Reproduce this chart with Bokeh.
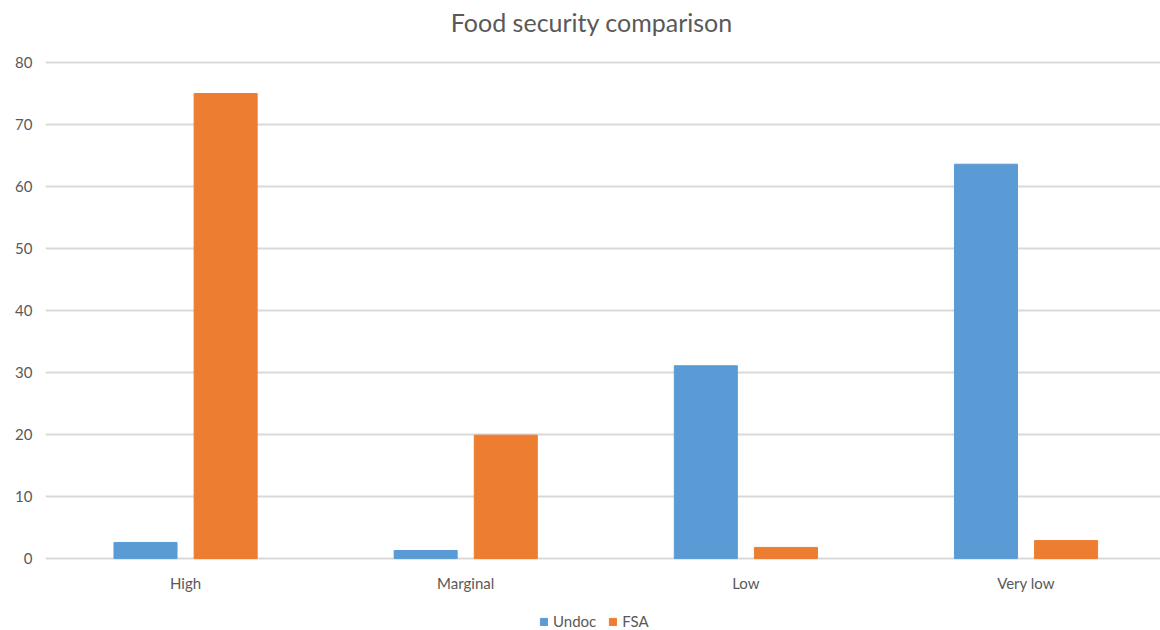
from bokeh.plotting import figure
from bokeh.models import ColumnDataSource, FixedTicker, Legend, LegendItem, Range1d, Label
from bokeh.embed import file_html
from bokeh.resources import INLINE

title_text = "Food security comparison"
categories = ["High", "Marginal", "Low", "Very low"]
undoc = [2.6, 1.3, 31.1, 63.6]
fsa = [75.0, 19.9, 1.8, 2.9]
series_names = ["Undoc", "FSA"]
y_ticks = [0, 10, 20, 30, 40, 50, 60, 70, 80]

BLUE = "#5B9BD5"
ORANGE = "#ED7D31"
TXT = "#595959"
FONT = "Lato"

centers = [i + 0.5 for i in range(len(categories))]
src_u = ColumnDataSource(dict(x=[c - 0.143 for c in centers], top=undoc))
src_f = ColumnDataSource(dict(x=[c + 0.143 for c in centers], top=fsa))

# frame covers the whole page height; 6.2 px per unit, 0 at y=558 px, 80 at y=62 px
p = figure(frame_width=1115, frame_height=630, output_backend="svg", toolbar_location=None,
           x_range=Range1d(0, 3.98), y_range=Range1d(-11.6, 90.0),
           min_border_left=45, min_border_right=0, min_border_top=0, min_border_bottom=0)

r1 = p.vbar(x="x", top="top", width=0.225, bottom=0, source=src_u, color=BLUE)
r2 = p.vbar(x="x", top="top", width=0.225, bottom=0, source=src_f, color=ORANGE)

p.add_layout(Label(x=1.95, y=86.5, text=title_text, text_font=FONT, text_font_size="25px",
                   text_color=TXT, text_align="center", text_baseline="middle"))

p.xaxis.ticker = FixedTicker(ticks=centers)
p.xaxis.major_label_overrides = {c: n for c, n in zip(centers, categories)}
p.xaxis.fixed_location = 0
p.yaxis.ticker = FixedTicker(ticks=y_ticks)
for ax in (p.xaxis[0], p.yaxis[0]):
    ax.axis_line_color = None
    ax.major_tick_line_color = None
    ax.minor_tick_line_color = None
    ax.major_tick_out = 0
    ax.major_tick_in = 0
    ax.minor_tick_out = 0
    ax.major_label_text_font = FONT
    ax.major_label_text_font_size = "15px"
    ax.major_label_text_color = TXT
p.xaxis.major_label_standoff = 15
p.yaxis.major_label_standoff = 13

p.xgrid.grid_line_color = None
p.ygrid.ticker = FixedTicker(ticks=y_ticks)
p.ygrid.grid_line_color = "#D9D9D9"
p.ygrid.grid_line_width = 2
p.outline_line_color = None

legend = Legend(items=[LegendItem(label=series_names[0], renderers=[r1]),
                       LegendItem(label=series_names[1], renderers=[r2])],
                orientation="horizontal", location=(494, 0),
                glyph_width=9, glyph_height=9, label_text_font=FONT,
                label_text_font_size="15px", label_text_color=TXT,
                label_standoff=5, spacing=12, border_line_color=None,
                padding=0, margin=1, background_fill_alpha=0)
p.add_layout(legend, "center")

open("out.html", "w").write(file_html(p, INLINE))
